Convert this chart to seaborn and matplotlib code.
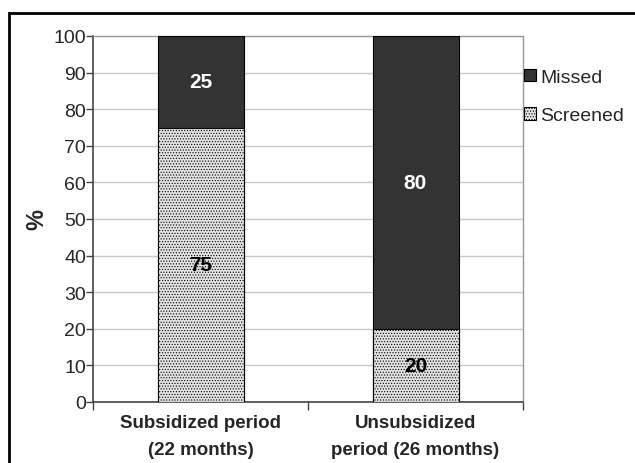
import matplotlib
matplotlib.use("Agg")
import matplotlib.pyplot as plt
import seaborn as sns
import pandas as pd
from matplotlib.patches import Rectangle, Patch

categories = ["Subsidized period\n(22 months)", "Unsubsidized\nperiod (26 months)"]
screened = [75, 20]
missed = [25, 80]
series_names = ["Missed", "Screened"]
y_ticks = [0, 10, 20, 30, 40, 50, 60, 70, 80, 90, 100]

sns.set_theme(style="white")
plt.rcParams['font.family'] = ['Liberation Sans', 'DejaVu Sans']
plt.rcParams['hatch.linewidth'] = 0.5
plt.rcParams['hatch.color'] = '#c4c4c4'

df = pd.DataFrame({"cat": categories, "screened": screened, "missed": missed})
df["total"] = df["screened"] + df["missed"]

fig = plt.figure(figsize=(6.35, 4.64), dpi=100)
ax = fig.add_axes([93/635, 1-403/464, (523-93)/635, (403-37)/464])

dark = "#333333"
light = "#e2e2e2"
sns.barplot(data=df, x="cat", y="total", ax=ax, color=dark, width=0.4,
            edgecolor="black", linewidth=0.8, saturation=1, zorder=3)
sns.barplot(data=df, x="cat", y="screened", ax=ax, color=light, width=0.4,
            edgecolor="black", linewidth=0.8, saturation=1, zorder=4, hatch="......")

for i, (s, m) in enumerate(zip(screened, missed)):
    ax.text(i, s/2, f"{s}", ha="center", va="center", fontsize=15, fontweight="bold", color="black", zorder=6)
    ax.text(i, s + m/2, f"{m}", ha="center", va="center", fontsize=15, fontweight="bold", color="white", zorder=6)

ax.set_ylim(0, 100)
ax.set_xlim(-0.5, 1.5)
ax.set_yticks(y_ticks)
ax.set_yticklabels([str(t) for t in y_ticks], fontsize=14)
ax.yaxis.grid(True, color="#c8c8c8", linewidth=1, zorder=0)
ax.set_axisbelow(True)
ax.set_xlabel("")
ax.set_ylabel("%", fontsize=17, fontweight="bold", labelpad=4)
ax.tick_params(axis="y", which="major", direction="out", length=5, width=1, color="#444444", pad=0, left=True)
ax.set_xticks([0, 1])
ax.set_xticklabels(categories, fontsize=13.5, fontweight="bold", linespacing=1.7)
ax.tick_params(axis="x", which="major", length=0, pad=9)
ax.set_xticks([-0.5, 0.5, 1.5], minor=True)
ax.tick_params(axis="x", which="minor", direction="out", length=6, width=1, color="#444444", bottom=True)
for side in ["left", "bottom"]:
    ax.spines[side].set_color("#444444")
    ax.spines[side].set_linewidth(1.2)
for side in ["top", "right"]:
    ax.spines[side].set_visible(True)
    ax.spines[side].set_color("#999999")
    ax.spines[side].set_linewidth(1)

handles = [Patch(facecolor=dark, edgecolor="black", linewidth=0.8),
           Patch(facecolor=light, edgecolor="black", linewidth=0.8, hatch="......")]
fig.legend(handles, series_names, loc="upper left", bbox_to_anchor=(524/635, 1-70/464),
           frameon=False, fontsize=14, handlelength=0.6, handleheight=0.6,
           handletextpad=0.25, labelspacing=1.1, borderaxespad=0, borderpad=0)

fig.patches.append(Rectangle((9/635, -0.1), 1.2, 1-14/464+0.1, transform=fig.transFigure,
                             fill=False, edgecolor="black", linewidth=2, zorder=10))

fig.savefig("out.png", dpi=100)
